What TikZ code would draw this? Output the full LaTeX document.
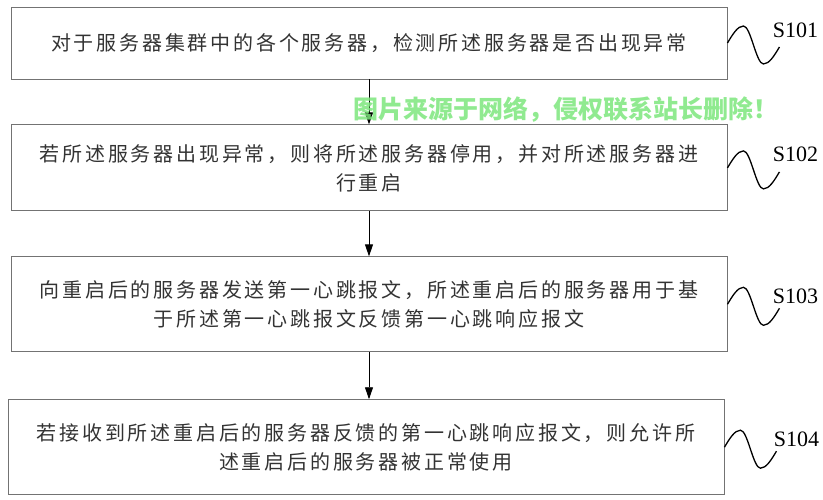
\documentclass[tikz,border=0pt]{standalone}
\usepackage{fontspec}
\setmainfont{Liberation Serif}
\newfontfamily\zhfont[LetterSpace=14]{Noto Sans CJK SC}
\newfontfamily\wmfont{Noto Sans CJK SC}
\usetikzlibrary{arrows.meta, positioning, calc}
\definecolor{wmgreen}{RGB}{125,230,125}
\tikzstyle{process} = [rectangle, draw=black!55, line width=0.9pt, minimum width=716pt, align=center, inner sep=0pt, text=black!80, font=\zhfont\fontsize{20}{29}\selectfont]
\tikzstyle{arrow} = [line width=0.9pt, -{Triangle[length=12pt,width=8pt]}]
\tikzstyle{wave} = [line width=1.3pt]
\tikzstyle{steplabel} = [inner sep=0pt, font=\fontsize{22}{22}\selectfont]

\begin{document}
\begin{tikzpicture}[x=1pt, y=-1pt, node distance=45pt]
\useasboundingbox (0,0) rectangle (823,500);

% Nodes
\node (detect) [process, minimum height=72pt] at (369,43) {对于服务器集群中的各个服务器，检测所述服务器是否出现异常};
\node (restart) [process, minimum height=86pt, below=45pt of detect] {若所述服务器出现异常，则将所述服务器停用，并对所述服务器进\\行重启};
\node (heartbeat) [process, minimum height=95pt, below=45pt of restart] {向重启后的服务器发送第一心跳报文，所述重启后的服务器用于基\\于所述第一心跳报文反馈第一心跳响应报文};
\node (allow) [process, minimum height=95pt, below=47pt of heartbeat, xshift=-3pt] {若接收到所述重启后的服务器反馈的第一心跳响应报文，则允许所\\述重启后的服务器被正常使用};

% Step labels
\node (s101) [steplabel] at ($(detect.east)+(68,-13)$) {S101};
\node (s102) [steplabel] at ($(restart.east)+(68,-14)$) {S102};
\node (s103) [steplabel] at ($(heartbeat.east)+(68,-8)$) {S103};
\node (s104) [steplabel] at ($(allow.east)+(72,-8)$) {S104};

% Arrows
\draw [arrow] (detect.south) -- (detect.south |- restart.north);
\draw [arrow] (restart.south) -- (restart.south |- heartbeat.north);
\draw [arrow] (heartbeat.south) -- (heartbeat.south |- allow.north);

% Waves
\draw [wave] (detect.east) sin ++(16,-17) cos ++(10,19) sin ++(10,19) cos ++(16,-17);
\draw [wave] (restart.east) sin ++(16,-17) cos ++(10,19) sin ++(10,19) cos ++(16,-17);
\draw [wave] (heartbeat.east) sin ++(16,-17) cos ++(10,19) sin ++(10,19) cos ++(16,-17);
\draw [wave] (allow.east) sin ++(16,-17) cos ++(10,19) sin ++(10,19) cos ++(16,-17);

% Watermark
\node (watermark) [opacity=0.85, text=wmgreen, font=\wmfont\bfseries\fontsize{25}{25}\selectfont] at (566,110) {图片来源于网络，侵权联系站长删除！};

\end{tikzpicture}
\end{document}
